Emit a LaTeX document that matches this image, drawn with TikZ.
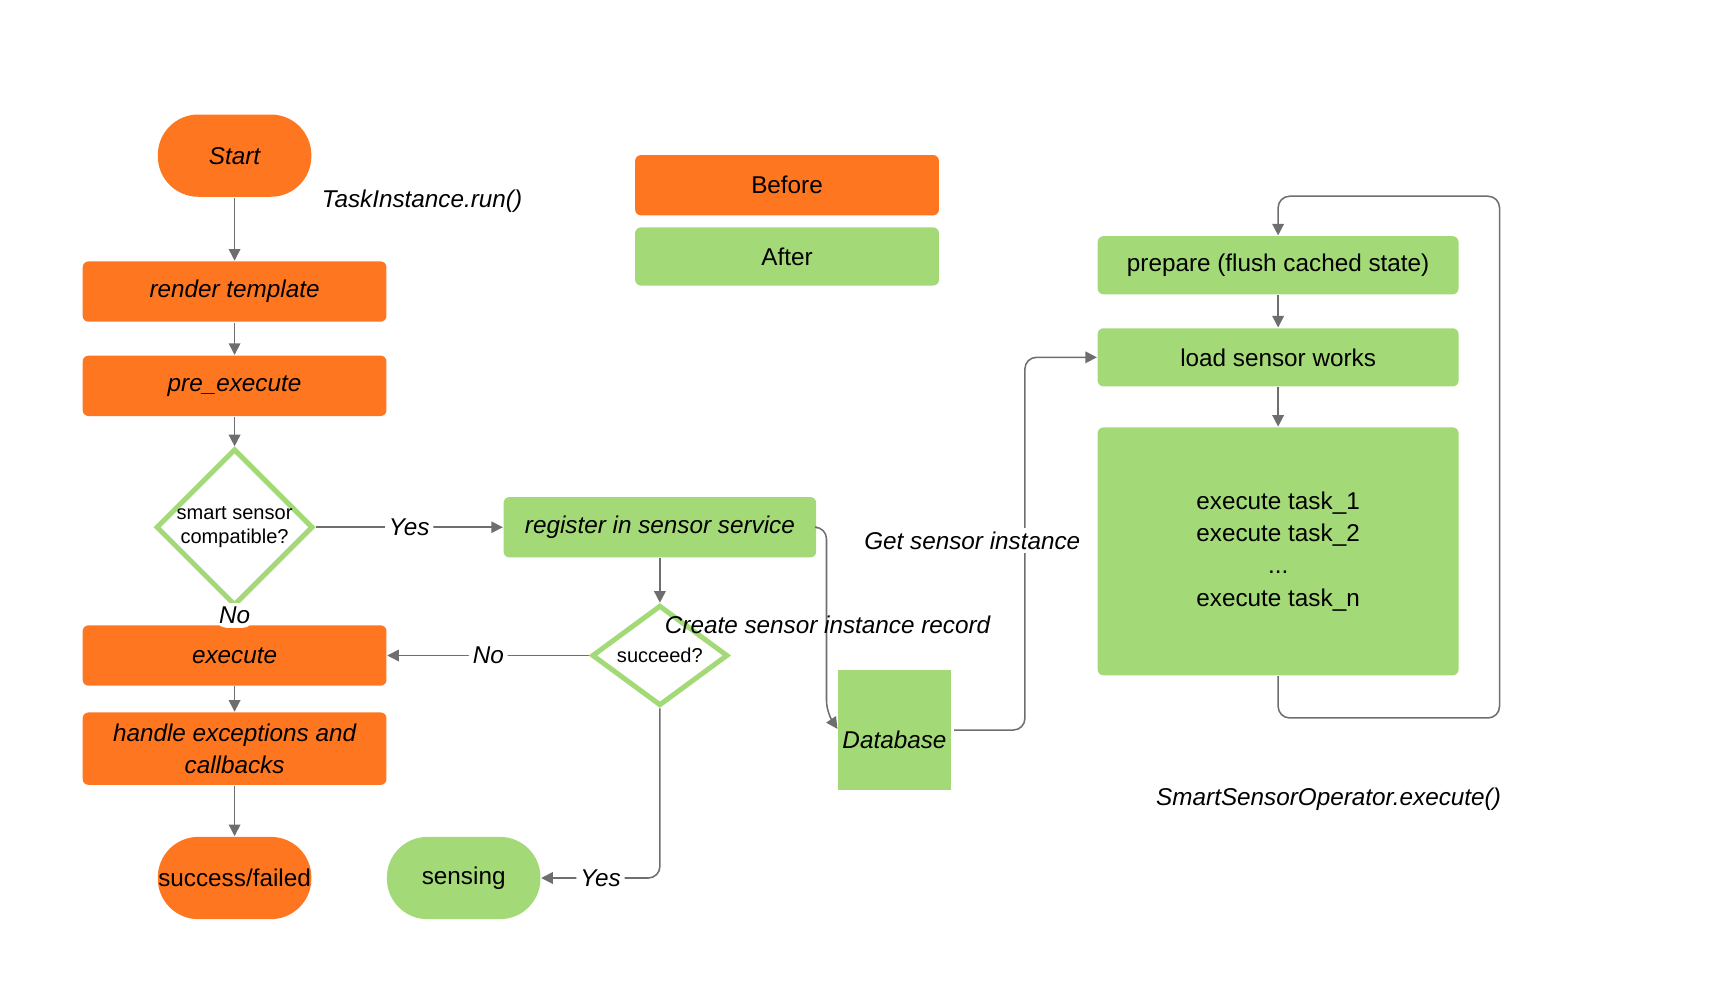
\documentclass[tikz,border=0pt]{standalone}
\usepackage{fontspec}
\setmainfont{Liberation Sans}
\usetikzlibrary{shapes.geometric,arrows.meta}
\definecolor{org}{HTML}{FF7620}
\definecolor{grn}{HTML}{A3D977}
\definecolor{ln}{HTML}{6E6E6E}
\begin{document}
\begin{tikzpicture}[x=0.01cm,y=-0.01cm,font=\fontsize{6.3}{7.6}\selectfont,
  box/.style={rectangle,rounded corners=1.5pt,minimum width=2.77cm,minimum height=0.55cm,inner sep=0pt,align=center},
  ob/.style={box,fill=org},
  gb/.style={box,fill=grn},
  term/.style={rectangle,rounded corners=10.5pt,minimum width=1.4cm,minimum height=0.75cm,inner sep=0pt},
  dia/.style={diamond,draw=grn,line width=1.3pt,fill=white,inner sep=0pt,align=center,font=\fontsize{5.2}{6.2}\selectfont},
  ar/.style={draw=ln,line width=0.4pt,-{Triangle[length=3pt,width=3pt]},rounded corners=3pt},
  it/.style={font=\itshape\fontsize{6.3}{7.6}\selectfont},
  lab/.style={fill=white,inner sep=1pt,it}]
\useasboundingbox (0,0) rectangle (1560,907);
\node[term,fill=org,it] (start) at (214,142) {Start};
\node[it] (tir) at (385,184) {TaskInstance.run()};
\node[ob,it] (render) at (214,266) {render template};
\node[ob,it] (pre) at (214,352) {pre\_execute};
\node[dia,minimum width=1.3cm,minimum height=0.95cm] (comp) at (214,481) {smart sensor\\compatible?};
\node[gb,minimum width=2.85cm,it] (reg) at (602,481) {register in sensor service};
\node[ob,it] (exec) at (214,598) {execute};
\node[ob,minimum height=0.66cm,it,font=\itshape\fontsize{6.3}{8.4}\selectfont] (handle) at (214,683) {handle exceptions and\\callbacks};
\node[term,fill=org] (succ) at (214,801) {success/failed};
\node[term,fill=grn] (sensing) at (423,801) {sensing};
\node[dia,minimum width=1.24cm,minimum height=0.56cm] (sq) at (602,598) {succeed?};
\node[cylinder,shape border rotate=90,aspect=0.25,fill=grn,draw=white,line width=0.8pt,minimum width=1.06cm,minimum height=1.12cm,inner sep=0pt] (db) at (816,667) {};
\node[it] (dbt) at (816,675) {Database};
\node[ob] (before) at (718,169) {Before};
\node[gb,minimum height=0.53cm] (after) at (718,234) {After};
\node[gb,minimum width=3.29cm,minimum height=0.53cm] (prep) at (1166,242) {prepare (flush cached state)};
\node[gb,minimum width=3.29cm,minimum height=0.53cm] (load) at (1166,326) {load sensor works};
\node[gb,minimum width=3.29cm,minimum height=2.26cm,font=\fontsize{6.3}{8.4}\selectfont] (tasks) at (1166,503) {execute task\_1\\execute task\_2\\...\\execute task\_n};
\node[it] (sso) at (1212,729) {SmartSensorOperator.execute()};
\coordinate (dbin) at (764,665);
\draw[ar] (start) -- (render);
\draw[ar] (render) -- (pre);
\draw[ar] (pre) -- (comp);
\draw[ar] (comp) -- node[lab] {Yes} (reg);
\draw[ar] (comp) -- node[lab,pos=0.45] {No} (exec);
\draw[ar] (reg) -- (sq);
\draw[ar] (sq) -- node[lab] {No} (exec);
\draw[ar] (sq) |- node[lab,pos=0.75] {Yes} (sensing);
\draw[ar] (exec) -- (handle);
\draw[ar] (handle) -- (succ);
\draw[ar] (reg.east) -| (754,520) -- (754,650) -- (dbin);
\node[it] (csr) at (755,570) {Create sensor instance record};
\draw[ar] (db.east |- 0,666) -| (935,500) |- (load.west);
\node[lab] (gsi) at (887,493) {Get sensor instance};
\draw[ar] (prep) -- (load);
\draw[ar] (load) -- (tasks);
\draw[ar] (tasks.south) -- (1166,655) -| (1368,179) -| (prep.north);
\end{tikzpicture}
\end{document}
